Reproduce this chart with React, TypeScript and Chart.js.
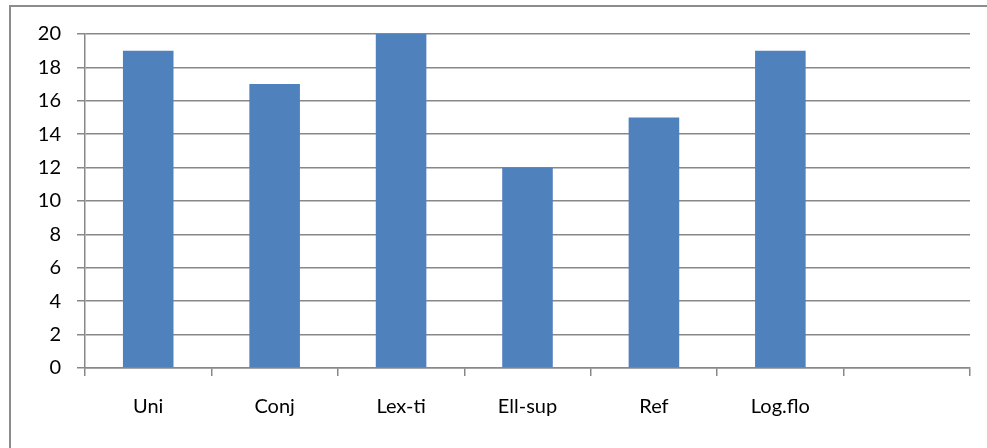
import React, { useEffect, useRef } from "react";
import { Chart, registerables } from "chart.js";

Chart.register(...registerables);

const categories = ["Uni", "Conj", "Lex-ti", "Ell-sup", "Ref", "Log.flo", ""];
const values = [19, 17, 20, 12, 15, 19, null];
const yTicks = [0, 2, 4, 6, 8, 10, 12, 14, 16, 18, 20];

export default function App() {
  const ref = useRef<HTMLCanvasElement | null>(null);
  useEffect(() => {
    if (!ref.current) return;
    const font = { family: "Lato, 'Open Sans', sans-serif", size: 20 };
    const chart = new Chart(ref.current, {
      type: "bar",
      data: {
        labels: categories,
        datasets: [
          {
            data: values,
            backgroundColor: "#4F81BD",
            barPercentage: 0.4,
            categoryPercentage: 1,
          },
        ],
      },
      options: {
        animation: false,
        responsive: false,
        layout: { padding: { left: 0, top: 34, right: 17, bottom: 0 } },
        plugins: { legend: { display: false }, tooltip: { enabled: false } },
        scales: {
          x: {
            grid: {
              offset: true,
              drawOnChartArea: false,
              drawTicks: true,
              tickLength: 8,
              color: "#888888",
              lineWidth: 1.5,
            },
            border: { color: "#888888", width: 1.5 },
            ticks: { color: "#000", font, padding: 19, maxRotation: 0 },
            afterFit: (s: any) => {
              s.height = 80;
            },
          },
          y: {
            min: 0,
            max: 20,
            afterBuildTicks: (s: any) => {
              s.ticks = yTicks.map((v) => ({ value: v }));
            },
            grid: { color: "#888888", tickLength: 8, lineWidth: 1.5 },
            border: { color: "#888888", width: 1.5 },
            ticks: { color: "#000", font, padding: 16 },
            afterFit: (s: any) => {
              s.width = 85;
            },
          },
        },
      },
    });
    return () => chart.destroy();
  }, []);
  return (
    <div style={{ position: "fixed", left: 0, top: 0, width: 987, height: 448, background: "#fff", overflow: "hidden" }}>
      <div
        style={{
          position: "absolute",
          left: 9,
          top: 5,
          width: 1000,
          height: 500,
          border: "2px solid #8c8c8c",
          boxSizing: "border-box",
        }}
      />
      <canvas ref={ref} width={987} height={448} style={{ position: "absolute", left: 0, top: 0 }} />
    </div>
  );
}
